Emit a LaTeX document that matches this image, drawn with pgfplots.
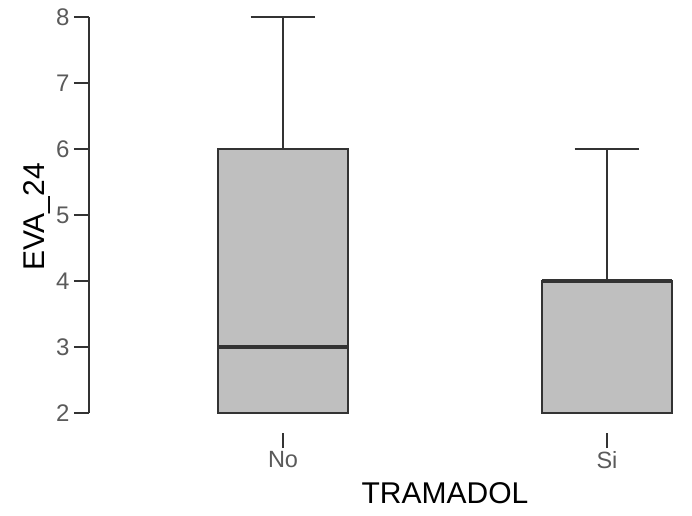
\documentclass[border=0pt]{standalone}
\usepackage{pgfplots}
\pgfplotsset{compat=1.18}
\usepgfplotslibrary{statistics}
\usepackage{fontspec}
\setmainfont{Liberation Sans}
\definecolor{boxfill}{HTML}{BFBFBF}
\definecolor{edge}{HTML}{333333}
\definecolor{ticktext}{HTML}{5A5A5A}
\begin{document}
\begin{tikzpicture}[x=1pt,y=1pt]
\useasboundingbox (0,0) rectangle (692,515);
\begin{axis}[
  at={(89pt,102pt)}, anchor=south west,
  scale only axis, width=712pt, height=396pt,
  xmin=0.401, xmax=2.599, ymin=2, ymax=8,
  enlargelimits=false, clip=false,
  axis x line*=bottom, axis y line*=left,
  x axis line style={draw=none},
  y axis line style={edge, line width=1.6pt, -},
  xtick={1,2}, xticklabels={No,Si},
  ytick={2,3,4,5,6,7,8},
  tick align=outside, major tick length=15pt,
  xtick style={edge, line width=1.6pt, yshift=-20pt},
  ytick style={edge, line width=1.6pt},
  x tick label style={yshift=-20pt, font=\fontsize{23.5}{27}\selectfont, text=ticktext},
  y tick label style={font=\fontsize{24}{27}\selectfont, text=ticktext, xshift=-1pt},
  /pgf/number format/assume math mode=true,
  xlabel={TRAMADOL}, ylabel={EVA\_24},
  every axis x label/.style={at={(axis description cs:0.5,0)}, anchor=center, yshift=-80pt, font=\fontsize{30}{34}\selectfont},
  every axis y label/.style={at={(axis description cs:0,0.5)}, xshift=-52pt, yshift=-2pt, anchor=center, rotate=90, font=\fontsize{30}{34}\selectfont},
  boxplot/draw direction=y,
  boxplot/box extend=0.4,
  boxplot/whisker extend=0.2,
  boxplot/every median/.style={line width=4pt},
]
\addplot+[boxplot prepared={draw position=1, lower whisker=2, lower quartile=2, median=3, upper quartile=6, upper whisker=8},
  draw=edge, fill=boxfill, line width=2.2pt, mark=none, solid] coordinates {};
\addplot+[boxplot prepared={draw position=2, lower whisker=2, lower quartile=2, median=4, upper quartile=4, upper whisker=6},
  draw=edge, fill=boxfill, line width=2.2pt, mark=none, solid] coordinates {};
\end{axis}
\end{tikzpicture}
\end{document}
